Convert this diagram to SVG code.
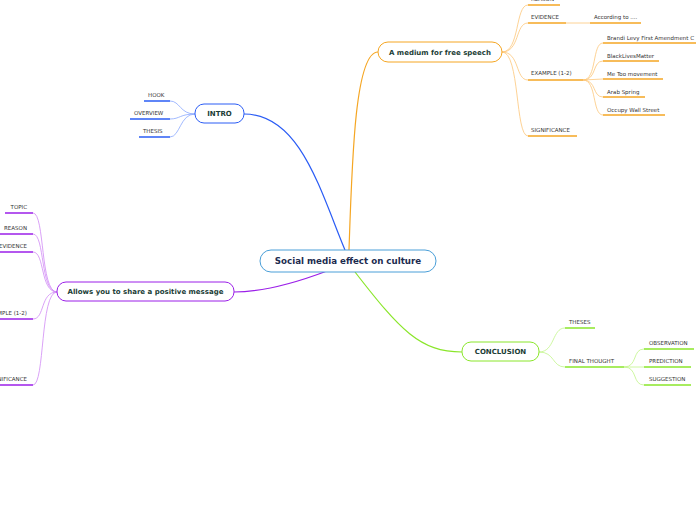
<svg xmlns="http://www.w3.org/2000/svg" width="696" height="520" viewBox="0 0 696 520">
<style>
.lbl{font-family:"DejaVu Sans",Verdana,sans-serif;font-size:5.5px;fill:#333}
.nd{font-family:"DejaVu Sans",Verdana,sans-serif;font-size:7px;font-weight:bold;fill:#1b3d36;text-anchor:middle}
.ctr{font-family:"DejaVu Sans",Verdana,sans-serif;font-size:8.7px;font-weight:bold;fill:#1c2b4f;text-anchor:middle}
.c{fill:none}
.o{stroke:#f5a623}.ol{stroke:#fcc77a}
.b{stroke:#2a5cf5}.bl{stroke:#8aa8ff}
.g{stroke:#8ae62a}.gl{stroke:#c2f58a}
.p{stroke:#9b1fe8}.pl{stroke:#d08af5}
.u{stroke-width:1.5}
.w{stroke-width:0.8}
</style>
<rect width="696" height="520" fill="#fff"/>
<g id="connectors" class="c">
  <path class="b" stroke-width="1.2" d="M345,250 C320,190 300,114 244,114"/>
  <path class="o" stroke-width="1.2" d="M349,250 C352,160 355,52 378,52"/>
  <path class="g" stroke-width="1.2" d="M355,272 C400,330 420,352 462,352"/>
  <path class="p" stroke-width="1.2" d="M327,271 C290,285 260,292 234,292"/>
  <path class="bl w" d="M195,114 C180,114 180,101 170,101"/>
  <path class="bl w" d="M195,114 C180,114 180,119 170,119"/>
  <path class="bl w" d="M195,114 C180,114 180,137 170,137"/>
  <path class="ol w" d="M502,52 C520,52 515,5 528,5"/>
  <path class="ol w" d="M502,52 C520,52 515,23 528,23"/>
  <path class="ol w" d="M502,52 C520,52 515,80 528,80"/>
  <path class="ol w" d="M502,52 C520,52 515,136 528,136"/>
  <path class="ol w" d="M566,23 L590,23"/>
  <path class="ol w" d="M583,80 C597,80 592,43 603,43"/>
  <path class="ol w" d="M583,80 C597,80 592,61 603,61"/>
  <path class="ol w" d="M583,80 L603,79"/>
  <path class="ol w" d="M583,80 C597,80 592,97 603,97"/>
  <path class="ol w" d="M583,80 C597,80 592,115 603,115"/>
  <path class="gl w" d="M539,352 C555,352 552,328 565,328"/>
  <path class="gl w" d="M539,352 C555,352 552,367 565,367"/>
  <path class="gl w" d="M624,367 C638,367 632,349 644,349"/>
  <path class="gl w" d="M624,367 L644,367"/>
  <path class="gl w" d="M624,367 C638,367 632,385 644,385"/>
  <path class="pl w" d="M57,292 C40,292 45,213 33,213"/>
  <path class="pl w" d="M57,292 C40,292 45,234 33,234"/>
  <path class="pl w" d="M57,292 C40,292 45,252 33,252"/>
  <path class="pl w" d="M57,292 C40,292 45,319 33,319"/>
  <path class="pl w" d="M57,292 C40,292 45,385 33,385"/>
</g>
<g id="central">
  <rect x="260" y="250" width="176" height="22" rx="11" fill="#fff" stroke="#4a9fd8" stroke-width="1"/>
  <text class="ctr" x="348" y="264">Social media effect on culture</text>
</g>
<g id="intro">
  <rect x="195" y="104" width="49" height="19" rx="9" fill="#fff" stroke="#2a5cf5" stroke-width="1"/>
  <text class="nd" x="219.5" y="116">INTRO</text>
</g>
<g id="intro-hook"><path class="b u" d="M144,101 H170"/><text class="lbl" x="148" y="97">HOOK</text></g>
<g id="intro-overview"><path class="b u" d="M130,119 H170"/><text class="lbl" x="134" y="115">OVERVIEW</text></g>
<g id="intro-thesis"><path class="b u" d="M139,137 H170"/><text class="lbl" x="143" y="133">THESIS</text></g>

<g id="free-speech">
  <rect x="378" y="42" width="124" height="20" rx="10" fill="#fff" stroke="#f5a623" stroke-width="1"/>
  <text class="nd" x="440" y="54.5">A medium for free speech</text>
</g>
<g id="fs-reason"><path class="o u" d="M528,5 H560"/><text class="lbl" x="531" y="1">REASON</text></g>
<g id="fs-evidence"><path class="o u" d="M528,23 H566"/><text class="lbl" x="531" y="19">EVIDENCE</text></g>
<g id="fs-according"><path class="o u" d="M590,23 H641"/><text class="lbl" x="594" y="19">According to ....</text></g>
<g id="fs-example"><path class="o u" d="M528,80 H583"/><text class="lbl" x="531" y="75">EXAMPLE (1-2)</text></g>
<g id="fs-significance"><path class="o u" d="M528,136 H577"/><text class="lbl" x="531" y="132">SIGNIFICANCE</text></g>
<g id="ex-brandi"><path class="o u" d="M603,43 H696"/><text class="lbl" x="607" y="40">Brandi Levy First Amendment  C</text></g>
<g id="ex-blm"><path class="o u" d="M603,61 H659"/><text class="lbl" x="607" y="58">BlackLivesMatter</text></g>
<g id="ex-metoo"><path class="o u" d="M603,79 H663"/><text class="lbl" x="607" y="76">Me Too movement</text></g>
<g id="ex-arab"><path class="o u" d="M603,97 H645"/><text class="lbl" x="607" y="94">Arab Spring</text></g>
<g id="ex-occupy"><path class="o u" d="M603,115 H665"/><text class="lbl" x="607" y="112">Occupy Wall Street</text></g>

<g id="conclusion">
  <rect x="462" y="342" width="77" height="19" rx="9" fill="#fff" stroke="#8ae62a" stroke-width="1"/>
  <text class="nd" x="500.5" y="354">CONCLUSION</text>
</g>
<g id="c-theses"><path class="g u" d="M565,328 H595"/><text class="lbl" x="569" y="324">THESES</text></g>
<g id="c-final"><path class="g u" d="M565,367 H624"/><text class="lbl" x="569" y="363">FINAL THOUGHT</text></g>
<g id="c-observation"><path class="g u" d="M644,349 H694"/><text class="lbl" x="649" y="345">OBSERVATION</text></g>
<g id="c-prediction"><path class="g u" d="M644,367 H691"/><text class="lbl" x="649" y="363">PREDICTION</text></g>
<g id="c-suggestion"><path class="g u" d="M644,385 H691"/><text class="lbl" x="649" y="381">SUGGESTION</text></g>

<g id="positive">
  <rect x="57" y="282" width="177" height="19" rx="9" fill="#fff" stroke="#9b1fe8" stroke-width="1"/>
  <text class="nd" x="145.5" y="294">Allows you to share a positive message</text>
</g>
<g id="p-topic"><path class="p u" d="M5,213 H33"/><text class="lbl" x="27" y="209" text-anchor="end">TOPIC</text></g>
<g id="p-reason"><path class="p u" d="M0,234 H33"/><text class="lbl" x="27" y="230" text-anchor="end">REASON</text></g>
<g id="p-evidence"><path class="p u" d="M0,252 H33"/><text class="lbl" x="27" y="248" text-anchor="end">EVIDENCE</text></g>
<g id="p-example"><path class="p u" d="M0,319 H33"/><text class="lbl" x="27" y="315" text-anchor="end">EXAMPLE (1-2)</text></g>
<g id="p-significance"><path class="p u" d="M0,385 H33"/><text class="lbl" x="27" y="381" text-anchor="end">SIGNIFICANCE</text></g>
</svg>
